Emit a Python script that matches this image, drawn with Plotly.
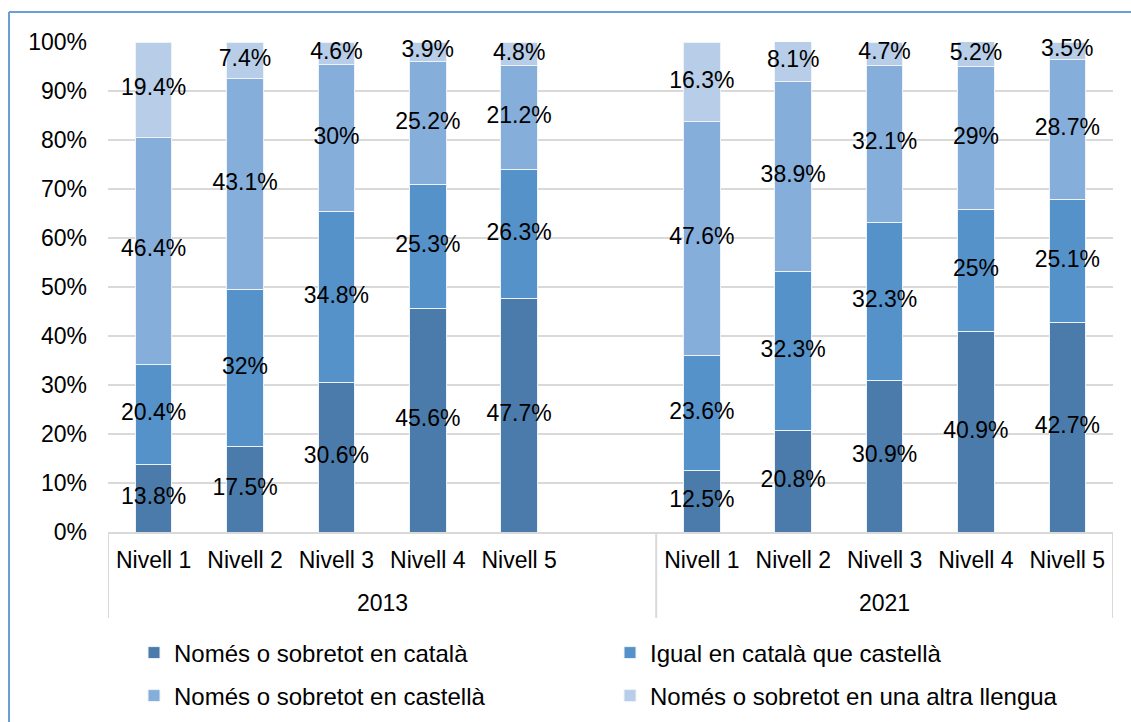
import plotly.graph_objects as go

# ---- data ----
levels = ["Nivell 1", "Nivell 2", "Nivell 3", "Nivell 4", "Nivell 5"]
years = ["2013", "2021"]
series_names = [
    "Només o sobretot en català",
    "Igual en català que castellà",
    "Només o sobretot en castellà",
    "Només o sobretot en una altra llengua",
]
cat_2013 = [13.8, 17.5, 30.6, 45.6, 47.7]
igual_2013 = [20.4, 32, 34.8, 25.3, 26.3]
cast_2013 = [46.4, 43.1, 30, 25.2, 21.2]
altra_2013 = [19.4, 7.4, 4.6, 3.9, 4.8]
cat_2021 = [12.5, 20.8, 30.9, 40.9, 42.7]
igual_2021 = [23.6, 32.3, 32.3, 25, 25.1]
cast_2021 = [47.6, 38.9, 32.1, 29, 28.7]
altra_2021 = [16.3, 8.1, 4.7, 5.2, 3.5]
colors = ["#4A7BAA", "#5592C9", "#85AEDB", "#B7CDE8"]

# positions: 2013 group uses slots 0-4 (slot 5 empty), 2021 uses 6-10
x_pos = [0, 1, 2, 3, 4, 6, 7, 8, 9, 10]
series_vals = [
    cat_2013 + cat_2021,
    igual_2013 + igual_2021,
    cast_2013 + cast_2021,
    altra_2013 + altra_2021,
]

FONT = "Liberation Sans, Arial, sans-serif"
FS = 23

fig = go.Figure()
base = [0.0] * len(x_pos)
for i, (name, vals) in enumerate(zip(series_names, series_vals)):
    fig.add_trace(go.Bar(
        x=x_pos, y=vals, name=name,
        marker=dict(color=colors[i], line=dict(color="#EEF3FA", width=1)),
        width=0.4,
        hoverinfo="skip",
        legend="legend" if i < 2 else "legend2",
    ))
    mids = [b + v / 2 for b, v in zip(base, vals)]
    fig.add_trace(go.Scatter(
        x=x_pos, y=mids, mode="text",
        text=[f"{v:g}%" for v in vals],
        textposition="middle center",
        textfont=dict(family=FONT, size=FS, color="black"),
        showlegend=False, hoverinfo="skip", cliponaxis=False,
    ))
    base = [b + v for b, v in zip(base, vals)]

W, H = 1131, 722
L, R, T, B = 108, 18, 42, 190
pw, ph = W - L - R, H - T - B

def px_x(px):
    return (px - L) / pw

def px_y(py):
    return (H - B - py) / ph

grid = "#D9D9D9"
shapes = []
for xv in [-0.5, 5.5, 10.5]:
    shapes.append(dict(type="line", xref="x", yref="paper", x0=xv, x1=xv,
                       y0=0, y1=px_y(618), line=dict(color=grid, width=2)))
# outer chart border (top and left visible)
shapes.append(dict(type="line", xref="paper", yref="paper", x0=px_x(9), x1=px_x(1140),
                   y0=px_y(12), y1=px_y(12), line=dict(color="#6A9FD6", width=2)))
shapes.append(dict(type="line", xref="paper", yref="paper", x0=px_x(9), x1=px_x(9),
                   y0=px_y(12), y1=px_y(730), line=dict(color="#6A9FD6", width=2)))

annotations = []
for xv, yr in zip([2.5, 8], years):
    annotations.append(dict(x=xv, y=px_y(603), xref="x", yref="paper", text=yr,
                            showarrow=False, font=dict(family=FONT, size=FS, color="black"),
                            xanchor="center", yanchor="middle"))

legend_common = dict(orientation="h", xanchor="left", yanchor="middle",
                     entrywidth=431, entrywidthmode="pixels",
                     font=dict(family=FONT, size=24, color="black"),
                     bgcolor="rgba(0,0,0,0)", borderwidth=0, traceorder="normal")

fig.update_layout(
    width=W, height=H,
    margin=dict(l=L, r=R, t=T, b=B, autoexpand=False),
    paper_bgcolor="white", plot_bgcolor="white",
    barmode="stack",
    font=dict(family=FONT, size=FS, color="black"),
    showlegend=True,
    legend=dict(x=px_x(134), y=px_y(653), **legend_common),
    legend2=dict(x=px_x(134), y=px_y(696), **legend_common),
    xaxis=dict(range=[-0.5, 10.5], tickmode="array", tickvals=x_pos,
               ticktext=levels + levels, showgrid=False, zeroline=False,
               showline=True, linecolor=grid, linewidth=2, ticks="",
               ticklabelstandoff=6, tickfont=dict(family=FONT, size=FS, color="black"),
               fixedrange=True, automargin=False),
    yaxis=dict(range=[0, 100], dtick=10, ticksuffix="%", showgrid=True,
               gridcolor=grid, gridwidth=2, zeroline=False, showline=False,
               ticks="", ticklabelstandoff=20,
               tickfont=dict(family=FONT, size=FS, color="black"), fixedrange=True,
               automargin=False),
    shapes=shapes, annotations=annotations,
)

fig.write_html("out.html", config={"displayModeBar": False},
               post_script="document.body.style.margin='0';")
